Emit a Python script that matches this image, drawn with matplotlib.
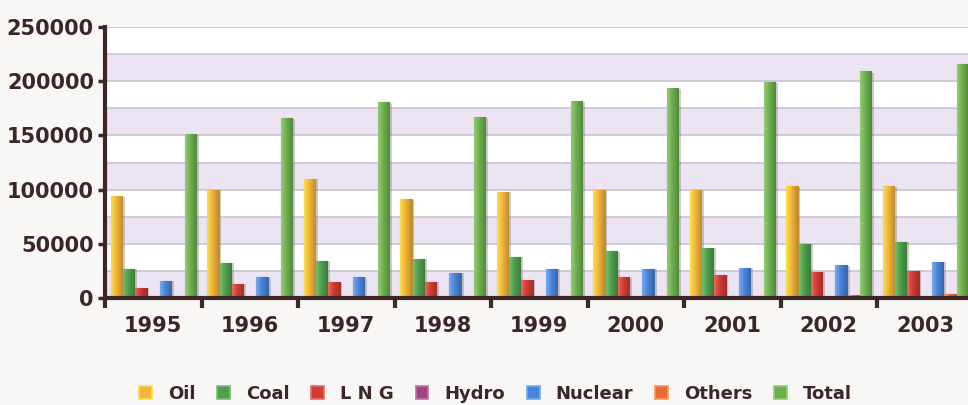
import numpy as np
import matplotlib
matplotlib.use("Agg")
import matplotlib.pyplot as plt
from matplotlib.colors import to_rgb
from matplotlib.patches import Rectangle, Patch

years = ["1995", "1996", "1997", "1998", "1999", "2000", "2001", "2002", "2003"]
oil = [94000, 100000, 110000, 91000, 98000, 100000, 100000, 103000, 103000]
coal = [27000, 32000, 34000, 36000, 38000, 43000, 46000, 50000, 52000]
lng = [9000, 13000, 15000, 15000, 17000, 19000, 21000, 24000, 25000]
hydro = [0, 0, 0, 0, 0, 0, 0, 0, 0]
nuclear = [16000, 19000, 19000, 23000, 26500, 27000, 28000, 30000, 33000]
others = [500, 800, 1000, 1200, 1500, 1800, 2000, 3000, 3500]
total = [151000, 166000, 181000, 167000, 182000, 194000, 199000, 209000, 216000]

series = ["Oil", "Coal", "L N G", "Hydro", "Nuclear", "Others", "Total"]
values = [oil, coal, lng, hydro, nuclear, others, total]
colors = ["#f2b43c", "#4e9e4c", "#d23c34", "#a0447e", "#4a84da", "#ec6a34", "#6cae4e"]
highlights = ["#f8e04a", "#74c070", "#e86a60", "#c070a8", "#78a8f0", "#f89a60", "#94cc74"]

DARK = "#3b2826"
fig = plt.figure(figsize=(9.68, 4.05), dpi=100, facecolor="#f8f7f6")
ax = fig.add_axes([0.1085, 107 / 405, 868.5 / 968, 271 / 405])
ax.set_facecolor("white")

ymax = 250000
ax.set_ylim(0, ymax)
ax.set_xlim(-0.5, len(years) - 0.5)

# alternating lavender bands and grid lines
band = "#ece4f2"
for lo in range(0, ymax, 50000):
    ax.axhspan(lo, lo + 25000, color=band, zorder=0, lw=0)
for g in range(25000, ymax + 1, 25000):
    ax.axhline(g, color="#cbc2d2", lw=1.2, zorder=0.5)

x = np.arange(len(years))
w = 0.1275
for i, (name, vals, c, hl) in enumerate(zip(series, values, colors, highlights)):
    pos = x + (i - 3) * w
    edge = tuple(np.array(to_rgb(c)) * 0.8)
    bars = ax.bar(pos, vals, width=w * 0.92, color=c, edgecolor=edge, lw=0.8,
                  zorder=3, label=name)
    for b in bars:
        h = b.get_height()
        if h <= 0:
            continue
        bx, bw = b.get_x(), b.get_width()
        # soft drop shadow to the right
        ax.add_patch(Rectangle((bx + bw * 0.25, 0), bw, h * 0.995,
                               color="#7a7070", alpha=0.35, lw=0, zorder=2))
        # horizontal shading across the bar
        c0 = np.array(to_rgb(hl))
        c1 = np.array(to_rgb(c))
        c2 = c1 * 0.78
        t = np.linspace(0, 1, 32)
        grad = np.where(t[:, None] < 0.45,
                        c0 + (c1 - c0) * (t[:, None] / 0.45),
                        c1 + (c2 - c1) * ((t[:, None] - 0.45) / 0.55))
        img = ax.imshow(grad[None, :, :], extent=(bx, bx + bw, 0, h),
                        aspect="auto", zorder=3.5, interpolation="bilinear")
        img.set_clip_path(b)

# axes styling
for s in ["top", "right"]:
    ax.spines[s].set_visible(False)
for s in ["left", "bottom"]:
    ax.spines[s].set_color(DARK)
    ax.spines[s].set_linewidth(3)
    ax.spines[s].set_zorder(5)

ax.set_yticks(range(0, ymax + 1, 50000))
ax.set_yticklabels([str(v) for v in range(0, ymax + 1, 50000)])
ax.tick_params(axis="y", length=5, width=2.5, color=DARK, pad=3)

ax.set_xticks(x)
ax.set_xticklabels(years)
ax.set_xticks(np.arange(-0.5, len(years)), minor=True)
ax.tick_params(axis="x", which="major", length=0, pad=13)
ax.tick_params(axis="x", which="minor", length=7, width=3, color=DARK)

for lab in ax.get_xticklabels() + ax.get_yticklabels():
    lab.set_fontfamily("DejaVu Sans")
    lab.set_fontweight("bold")
    lab.set_fontsize(15)
    lab.set_color(DARK)

handles = [Patch(facecolor=c, edgecolor=hl, lw=1.2) for c, hl in zip(colors, highlights)]
leg = fig.legend(handles, series, loc="center", bbox_to_anchor=(0.512, 0.027),
                 ncol=7, frameon=False, handlelength=0.7, handleheight=0.7,
                 handletextpad=0.9, columnspacing=1.2,
                 prop={"family": "DejaVu Sans", "weight": "bold", "size": 13})
for t in leg.get_texts():
    t.set_color(DARK)

fig.savefig("out.png", dpi=100, facecolor=fig.get_facecolor())
